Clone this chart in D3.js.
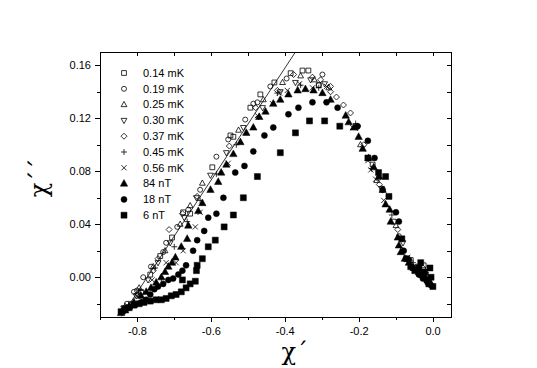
<!DOCTYPE html>
<html>
<head>
<meta charset="utf-8">
<script src="https://cdn.jsdelivr.net/npm/d3@7"></script>
<style>
body { margin: 0; background: #fff; }
svg { display: block; }
</style>
</head>
<body>
<div id="chart"></div>
<script>

/* ==========================
   Data  (chi' , chi'')
========================== */

const seriesNames = ["0.14 mK","0.19 mK","0.25 mK","0.30 mK","0.37 mK","0.45 mK","0.56 mK","84 nT","18 nT","6 nT"];

const xTicks = [-0.8,-0.6,-0.4,-0.2,0.0];
const xMinor = [-0.9,-0.7,-0.5,-0.3,-0.1];
const yTicks = [0.00,0.04,0.08,0.12,0.16];
const yMinor = [-0.02,0.02,0.06,0.10,0.14];

const fitLine = [[-0.842,-0.0295],[-0.371,0.170]];

const mk014 = [[-0.838,-0.026],[-0.816,-0.020],[-0.789,-0.011],[-0.764,0.002],[-0.737,0.016],[-0.705,0.030],[-0.675,0.049],[-0.656,0.048],[-0.596,0.083],[-0.547,0.107],[-0.539,0.106],[-0.493,0.128],[-0.466,0.138],[-0.428,0.147],[-0.384,0.154],[-0.352,0.156],[-0.336,0.156],[-0.308,0.145],[-0.162,0.085],[-0.105,0.042],[-0.059,0.013],[-0.024,0.009]];

const mk019 = [[-0.827,-0.020],[-0.808,-0.011],[-0.800,-0.010],[-0.783,0.000],[-0.762,0.008],[-0.729,0.019],[-0.721,0.026],[-0.691,0.038],[-0.661,0.051],[-0.629,0.066],[-0.585,0.091],[-0.553,0.104],[-0.507,0.119],[-0.485,0.131],[-0.474,0.132],[-0.439,0.144],[-0.395,0.150],[-0.298,0.153],[-0.308,0.145],[-0.146,0.075],[-0.091,0.031],[-0.042,0.008]];

const mk025 = [[-0.832,-0.022],[-0.794,-0.008],[-0.756,0.008],[-0.724,0.020],[-0.683,0.040],[-0.656,0.054],[-0.623,0.071],[-0.525,0.111],[-0.458,0.134],[-0.406,0.147],[-0.357,0.152],[-0.320,0.149],[-0.281,0.143],[-0.195,0.100],[-0.151,0.073],[-0.099,0.039],[-0.035,0.005]];

const mk030 = [[-0.835,-0.023],[-0.802,-0.014],[-0.770,-0.002],[-0.743,0.011],[-0.710,0.026],[-0.672,0.045],[-0.639,0.060],[-0.601,0.077],[-0.558,0.094],[-0.512,0.113],[-0.460,0.128],[-0.412,0.140],[-0.371,0.147],[-0.330,0.149],[-0.292,0.146],[-0.203,0.113],[-0.138,0.067],[-0.080,0.026],[-0.018,0.002]];

const mk037 = [[-0.829,-0.023],[-0.797,-0.013],[-0.756,0.005],[-0.743,0.014],[-0.713,0.036],[-0.677,0.048],[-0.637,0.061],[-0.550,0.099],[-0.479,0.128],[-0.420,0.141],[-0.376,0.153],[-0.325,0.151],[-0.303,0.149],[-0.276,0.144],[-0.276,0.140],[-0.260,0.136],[-0.241,0.130],[-0.222,0.124],[-0.186,0.100],[-0.144,0.070],[-0.094,0.036],[-0.026,0.007]];

const mk045 = [[-0.835,-0.024],[-0.791,-0.010],[-0.751,0.007],[-0.734,-0.001],[-0.699,0.023],[-0.664,0.042],[-0.629,0.058],[-0.585,0.078],[-0.531,0.100],[-0.471,0.121],[-0.420,0.139],[-0.357,0.145],[-0.308,0.143],[-0.208,0.116],[-0.165,0.082],[-0.110,0.047],[-0.053,0.011]];

const mk056 = [[-0.838,-0.024],[-0.800,-0.014],[-0.759,-0.002],[-0.721,0.011],[-0.694,0.011],[-0.675,0.020],[-0.642,0.038],[-0.629,0.049],[-0.553,0.086],[-0.474,0.122],[-0.433,0.131],[-0.414,0.139],[-0.393,0.141],[-0.360,0.146],[-0.325,0.143],[-0.287,0.144],[-0.216,0.113],[-0.189,0.097],[-0.175,0.088],[-0.167,0.081],[-0.154,0.074],[-0.132,0.058],[-0.067,0.015],[-0.051,0.008],[-0.032,0.002]];

const nt84 = [[-0.843,-0.027],[-0.832,-0.025],[-0.821,-0.022],[-0.808,-0.019],[-0.789,-0.014],[-0.775,-0.011],[-0.762,-0.008],[-0.748,-0.004],[-0.734,0.000],[-0.724,0.004],[-0.715,0.008],[-0.705,0.011],[-0.696,0.015],[-0.680,0.023],[-0.664,0.029],[-0.661,0.039],[-0.634,0.050],[-0.623,0.056],[-0.601,0.066],[-0.580,0.072],[-0.572,0.079],[-0.558,0.085],[-0.539,0.093],[-0.520,0.102],[-0.504,0.109],[-0.485,0.113],[-0.469,0.121],[-0.452,0.125],[-0.431,0.131],[-0.412,0.134],[-0.390,0.138],[-0.365,0.141],[-0.344,0.142],[-0.322,0.141],[-0.298,0.139],[-0.276,0.134],[-0.235,0.122],[-0.227,0.117],[-0.213,0.113],[-0.200,0.106],[-0.189,0.097],[-0.173,0.090],[-0.159,0.083],[-0.144,0.076],[-0.135,0.066],[-0.127,0.055],[-0.116,0.051],[-0.113,0.042],[-0.094,0.030],[-0.091,0.024],[-0.086,0.019],[-0.075,0.014],[-0.064,0.011],[-0.051,0.007],[-0.037,0.004],[-0.021,0.001],[-0.010,-0.002]];

const nt18 = [[-0.840,-0.026],[-0.824,-0.023],[-0.805,-0.021],[-0.789,-0.019],[-0.775,-0.017],[-0.764,-0.013],[-0.753,-0.009],[-0.743,-0.007],[-0.729,-0.005],[-0.715,-0.002],[-0.702,-0.001],[-0.688,0.002],[-0.677,0.005],[-0.667,0.009],[-0.648,0.020],[-0.637,0.028],[-0.618,0.035],[-0.607,0.045],[-0.585,0.048],[-0.566,0.060],[-0.534,0.079],[-0.509,0.084],[-0.485,0.095],[-0.455,0.107],[-0.431,0.113],[-0.390,0.123],[-0.363,0.128],[-0.325,0.132],[-0.287,0.132],[-0.257,0.128],[-0.203,0.114],[-0.175,0.103],[-0.157,0.090],[-0.135,0.066],[-0.099,0.049],[-0.091,0.042],[-0.078,0.020],[-0.064,0.013],[-0.053,0.007],[-0.037,0.002],[-0.026,-0.001],[-0.013,-0.004],[-0.004,-0.006]];

const nt6 = [[-0.843,-0.026],[-0.832,-0.024],[-0.821,-0.023],[-0.808,-0.021],[-0.794,-0.020],[-0.781,-0.019],[-0.764,-0.018],[-0.748,-0.017],[-0.734,-0.017],[-0.721,-0.016],[-0.707,-0.014],[-0.694,-0.013],[-0.680,-0.011],[-0.667,-0.008],[-0.656,-0.005],[-0.677,-0.002],[-0.642,-0.003],[-0.639,0.005],[-0.637,0.009],[-0.623,0.014],[-0.607,0.023],[-0.588,0.028],[-0.564,0.038],[-0.539,0.047],[-0.512,0.060],[-0.474,0.076],[-0.412,0.094],[-0.371,0.109],[-0.333,0.118],[-0.292,0.118],[-0.251,0.114],[-0.175,0.090],[-0.146,0.079],[-0.127,0.076],[-0.118,0.061],[-0.083,0.029],[-0.070,0.014],[-0.059,0.008],[-0.048,0.005],[-0.037,0.007],[-0.029,0.002],[-0.021,0.004],[-0.015,-0.002],[-0.010,-0.005],[-0.004,0.000],[0.001,-0.007],[-0.007,0.007],[-0.032,0.011]];

const allSeries = [mk014,mk019,mk025,mk030,mk037,mk045,mk056,nt84,nt18,nt6];

/* ==========================
   Symbols
========================== */

function symbolPath(type, r){

if(type === "square") return `M${-r},${-r}H${r}V${r}H${-r}Z`;
if(type === "circle") return `M${r},0A${r},${r} 0 1,1 ${-r},0A${r},${r} 0 1,1 ${r},0Z`;
if(type === "up") return `M0,${-r*1.1}L${r},${r*0.7}L${-r},${r*0.7}Z`;
if(type === "down") return `M0,${r*1.1}L${r},${-r*0.7}L${-r},${-r*0.7}Z`;
if(type === "diamond") return `M0,${-r}L${r},0L0,${r}L${-r},0Z`;
if(type === "plus") return `M${-r},0H${r}M0,${-r}V${r}`;
if(type === "times") return `M${-r},${-r}L${r},${r}M${-r},${r}L${r},${-r}`;

}

const styles = [
{type:"square", r:2.4, filled:false},
{type:"circle", r:2.5, filled:false},
{type:"up", r:2.9, filled:false},
{type:"down", r:2.9, filled:false},
{type:"diamond", r:3, filled:false},
{type:"plus", r:3, filled:false},
{type:"times", r:2.6, filled:false},
{type:"up", r:3.7, filled:true},
{type:"circle", r:3.0, filled:true},
{type:"square", r:3.0, filled:true}
];

/* ==========================
   Chart
========================== */

const width = 537;
const height = 368;
const margin = {top:52, right:86, bottom:51, left:100};

const svg = d3.select("#chart")
.append("svg")
.attr("width", width)
.attr("height", height);

const x = d3.scaleLinear()
.domain([-0.9, 0.05])
.range([margin.left, width - margin.right]);

const y = d3.scaleLinear()
.domain([-0.03, 0.17])
.range([height - margin.bottom, margin.top]);

const fontFamily = "'Liberation Sans', Arial, sans-serif";

function styleAxis(g){
g.selectAll("path,line")
.attr("stroke", "#000")
.attr("stroke-width", 1)
.attr("shape-rendering", "crispEdges");
g.selectAll("text")
.attr("fill", "#000")
.style("font-family", fontFamily)
.style("font-size", "11px");
}

// bottom
svg.append("g")
.attr("transform", `translate(0,${height - margin.bottom})`)
.call(d3.axisBottom(x).tickValues(xTicks).tickFormat(d => d.toFixed(1)).tickSize(5).tickPadding(5).tickSizeOuter(0))
.call(styleAxis);

svg.append("g")
.attr("transform", `translate(0,${height - margin.bottom})`)
.call(d3.axisBottom(x).tickValues(xMinor).tickFormat("").tickSize(3).tickSizeOuter(0))
.call(styleAxis);

// left
svg.append("g")
.attr("transform", `translate(${margin.left},0)`)
.call(d3.axisLeft(y).tickValues(yTicks).tickFormat(d => d.toFixed(2)).tickSize(5).tickPadding(4).tickSizeOuter(0))
.call(styleAxis);

svg.append("g")
.attr("transform", `translate(${margin.left},0)`)
.call(d3.axisLeft(y).tickValues(yMinor).tickFormat("").tickSize(3).tickSizeOuter(0))
.call(styleAxis);

// top, ticks inward
svg.append("g")
.attr("transform", `translate(0,${margin.top})`)
.call(d3.axisTop(x).tickValues(xTicks.concat(xMinor)).tickFormat("").tickSize(-4).tickSizeOuter(0))
.call(styleAxis);

// right
svg.append("g")
.attr("transform", `translate(${width - margin.right},0)`)
.call(d3.axisRight(y).tickValues(yTicks.concat(yMinor)).tickFormat("").tickSize(-4).tickSizeOuter(0))
.call(styleAxis);

// axis titles
svg.append("text")
.attr("x", x(-0.4) + 10)
.attr("y", height - 8)
.attr("text-anchor", "middle")
.style("font-family", "'DejaVu Serif', serif")
.style("font-size", "24px")
.text("χ´");

svg.append("text")
.attr("transform", `translate(47,${y(0.075)}) rotate(-90)`)
.attr("text-anchor", "middle")
.style("font-family", "'DejaVu Serif', serif")
.style("font-size", "24px")
.text("χ´´");

// straight line
svg.append("line")
.attr("x1", x(fitLine[0][0]))
.attr("y1", y(fitLine[0][1]))
.attr("x2", x(fitLine[1][0]))
.attr("y2", y(fitLine[1][1]))
.attr("stroke", "#000")
.attr("stroke-width", 0.8);

// points
allSeries.forEach((data, i) => {

const st = styles[i];

svg.append("g")
.selectAll("path")
.data(data)
.enter()
.append("path")
.attr("transform", d => `translate(${x(d[0])},${y(d[1])})`)
.attr("d", symbolPath(st.type, st.r))
.attr("fill", st.filled ? "#000" : "none")
.attr("stroke", "#000")
.attr("stroke-width", st.filled ? 0.5 : 0.8);

});

// legend
const legend = svg.append("g")
.attr("transform", "translate(124,73)");

const rows = legend.selectAll("g")
.data(seriesNames)
.enter()
.append("g")
.attr("transform", (d, i) => `translate(0,${i * 15.8})`);

rows.append("path")
.attr("d", (d, i) => symbolPath(styles[i].type, styles[i].r))
.attr("fill", (d, i) => styles[i].filled ? "#000" : "none")
.attr("stroke", "#000")
.attr("stroke-width", (d, i) => styles[i].filled ? 0.5 : 0.8);

rows.append("text")
.attr("x", 19)
.attr("dy", "0.35em")
.style("font-family", fontFamily)
.style("font-size", "11px")
.text(d => d);

</script>
</body>
</html>
